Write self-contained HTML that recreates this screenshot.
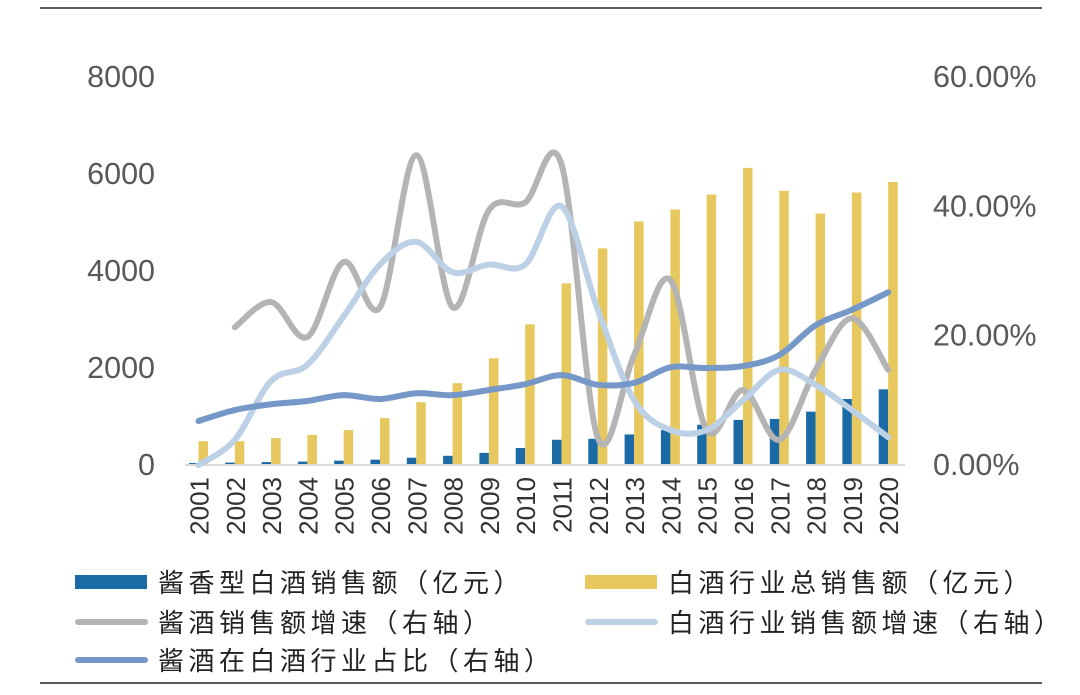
<!DOCTYPE html>
<html><head><meta charset="utf-8"><style>
body{margin:0;background:#fff}
svg text{font-family:"Liberation Sans","Noto Sans CJK SC",sans-serif}
</style></head><body>
<svg id="c" width="1080" height="690" viewBox="0 0 1080 690">
<line x1="40" y1="8" x2="1042" y2="8" stroke="#222" stroke-width="1.5"/>
<line x1="40" y1="683" x2="1042" y2="683" stroke="#222" stroke-width="1.5"/>
<g id="g"></g>
</svg>
<script>
const years=["2001","2002","2003","2004","2005","2006","2007","2008","2009","2010","2011","2012","2013","2014","2015","2016","2017","2018","2019","2020"];
const sauceSales=[40,50,60,70,90,110,150,190,250,350,520,540,630,720,830,930,950,1100,1360,1560];
const totalSales=[490,490,555,620,720,967,1296,1687,2200,2900,3746,4466,5021,5268,5577,6126,5654,5186,5618,5836];
const sauceGrowth=[null,21.3,25.2,19.8,31.4,24.4,47.9,24.4,39.4,40.6,46.5,4.2,17,28.6,5.4,11.6,3.9,14.7,22.7,14.7];
const totalGrowth=[0,3.9,13,15.5,23,31,34.5,29.8,31,31,40,24,10,5.4,5.4,10,14.7,12.4,8.5,4.3];
const share=[6.8,8.5,9.4,9.9,10.8,10.2,11.1,10.8,11.6,12.5,13.9,12.4,12.7,15.1,15,15.3,17,21.6,24,26.7];
const leftTicks=["0","2000","4000","6000","8000"];
const rightTicks=["0.00%","20.00%","40.00%","60.00%"];
const NS="http://www.w3.org/2000/svg",g=document.getElementById('g');
const y0=465,y1=77;
const yL=v=>y0-v/8000*(y0-y1), yR=v=>y0-v/60*(y0-y1), xC=i=>198.5+i*36.3;
function mk(t,a,p){const e=document.createElementNS(NS,t);for(const k in a)e.setAttribute(k,a[k]);(p||g).appendChild(e);return e;}
leftTicks.forEach((t,i)=>{const e=mk('text',{x:155,y:yL(i*2000)+10,'text-anchor':'end','font-size':30.5,fill:'#595959'});e.textContent=t;

});
rightTicks.forEach((t,i)=>{const e=mk('text',{x:933,y:yR(i*20)+10,'font-size':30.5,fill:'#595959'});e.textContent=t;

});
years.forEach((yr,i)=>{
const b=mk('rect',{x:xC(i)-9.5,y:yL(sauceSales[i]),width:9.5,height:y0-yL(sauceSales[i]),fill:'#1a6aa6'});


const c=mk('rect',{x:xC(i),y:yL(totalSales[i]),width:9.5,height:y0-yL(totalSales[i]),fill:'#e6c85e'});


const t=mk('text',{transform:`translate(${xC(i)+10},477) rotate(-90)`,'text-anchor':'end','font-size':26,fill:'#333'});t.textContent=yr;


});
const base=mk('line',{x1:185,y1:y0,x2:905,y2:y0,stroke:'#d9d9d9','stroke-width':2});


function smooth(arr){const p=[];arr.forEach((v,i)=>{if(v!==null)p.push([xC(i),yR(v)]);});
let d=`M${p[0][0]},${p[0][1]}`;for(let i=0;i<p.length-1;i++){const a=p[i-1]||p[i],b=p[i],c=p[i+1],e=p[i+2]||c;
d+=` C${b[0]+(c[0]-a[0])/6},${b[1]+(c[1]-a[1])/6} ${c[0]-(e[0]-b[0])/6},${c[1]-(e[1]-b[1])/6} ${c[0]},${c[1]}`;}return d;}
const l1=mk('path',{d:smooth(sauceGrowth),fill:'none',stroke:'#b4b4b4','stroke-width':6,'stroke-linecap':'round'});


const l2=mk('path',{d:smooth(totalGrowth),fill:'none',stroke:'#bcd0e6','stroke-width':6,'stroke-linecap':'round'});


const l3=mk('path',{d:smooth(share),fill:'none',stroke:'#7598c8','stroke-width':6,'stroke-linecap':'round'});


const leg=[["rect",'#1a6aa6',75,582,"酱香型白酒销售额（亿元）"],["rect",'#e6c85e',585,582,"白酒行业总销售额（亿元）"],
["line",'#b4b4b4',75,622,"酱酒销售额增速（右轴）"],["line",'#bcd0e6',585,622,"白酒行业销售额增速（右轴）"],
["line",'#7598c8',75,660,"酱酒在白酒行业占比（右轴）"]];
leg.forEach(l=>{
if(l[0]=="rect"){const r=mk('rect',{x:l[2],y:l[3]-7,width:72,height:14,fill:l[1]});

}
else{const r=mk('line',{x1:l[2]+3,y1:l[3],x2:l[2]+70,y2:l[3],stroke:l[1],'stroke-width':6,'stroke-linecap':'round'});

}
const t=mk('text',{x:l[2]+83,y:l[3]+10,'font-size':26,fill:'#222','letter-spacing':4.5});t.textContent=l[4];


});
</script>
</body></html>
